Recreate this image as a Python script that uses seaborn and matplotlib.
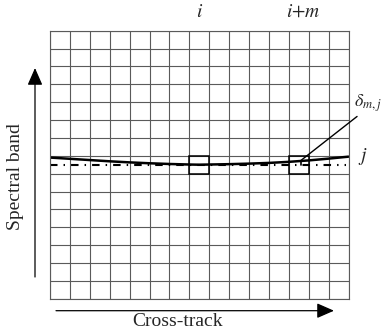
import matplotlib
matplotlib.use("Agg")
import matplotlib.pyplot as plt
from matplotlib.patches import Rectangle
import seaborn as sns
import pandas as pd

# Detector grid: 15 cross-track columns x 15 spectral rows
n_cols = 15
n_rows = 15

# Smile curve of spectral band j across the detector (column position, row position)
curve_x = [0, 1, 2, 3, 4, 5, 6, 7, 7.5, 8, 9, 10, 11, 12, 13, 14, 15]
curve_y = [7.90, 7.83, 7.76, 7.69, 7.63, 7.58, 7.54, 7.51, 7.50, 7.51, 7.53,
           7.56, 7.60, 7.66, 7.74, 7.84, 7.95]

# Nominal (straight) band centre
nominal_x = [0, 14.85]
nominal_y = [7.48, 7.48]

# Highlighted pixels: column i and column i+m in row j
box_cols = [7, 12]
box_row = 7
box_labels = ["$i$", "$i{+}m$"]
box_label_x = [7.5, 12.75]

# Offset delta_{m,j} at column i+m
delta_x = 12.6

sns.set_style("white")
plt.rcParams["font.family"] = ["Liberation Serif", "DejaVu Serif"]
plt.rcParams["mathtext.fontset"] = "stix"

fig = plt.figure(figsize=(3.84, 3.30), dpi=100)
ax = fig.add_axes([50 / 384, (330 - 298.7) / 330, 298.5 / 384, 268 / 330])

grid_color = "#5a5a5a"
ax.set_xlim(0, n_cols)
ax.set_ylim(0, n_rows)
ax.set_xticks(range(n_cols + 1))
ax.set_yticks(range(n_rows + 1))
ax.tick_params(length=0, labelbottom=False, labelleft=False)
ax.grid(True, color=grid_color, linewidth=0.8)
for s in ax.spines.values():
    s.set_color(grid_color)
    s.set_linewidth(0.8)

curve = pd.DataFrame({"x": curve_x, "y": curve_y})
nominal = pd.DataFrame({"x": nominal_x, "y": nominal_y})

sns.lineplot(data=nominal, x="x", y="y", ax=ax, color="black", linewidth=1.5,
             linestyle=(0, (3.6, 2.9, 0.7, 2.9)), sort=False)
sns.lineplot(data=curve, x="x", y="y", ax=ax, color="black", linewidth=1.8,
             sort=False)
ax.set_xlabel("")
ax.set_ylabel("")

for c in box_cols:
    ax.add_patch(Rectangle((c, box_row), 1, 1, fill=False, edgecolor="black",
                           linewidth=1.1, zorder=5))

for lx, lab in zip(box_label_x, box_labels):
    ax.text(lx, 15.76, lab, ha="center", va="baseline", fontsize=14,
            clip_on=False)

# delta marker and leader
y_curve_at_delta = 7.73
ax.plot([delta_x, delta_x], [nominal_y[0], y_curve_at_delta], color="black",
        linewidth=1.2, zorder=6)
ax.plot([delta_x, 15.43], [y_curve_at_delta, 10.2], color="black",
        linewidth=1.0, clip_on=False, zorder=6)
ax.text(15.3, 10.95, r"$\delta_{m,j}$", ha="left", va="center",
        fontsize=13, clip_on=False)
ax.text(15.48, 7.95, "$j$", ha="left", va="center", fontsize=14,
        clip_on=False)

# Axis direction arrows
arrow_kw = dict(arrowstyle="-|>,head_length=10.5,head_width=4.6",
                mutation_scale=1, color="black", linewidth=0.9,
                shrinkA=0, shrinkB=0)
ax.annotate("", xy=(35 / 384, 1 - 68 / 330), xytext=(35 / 384, 1 - 277 / 330),
            xycoords="figure fraction", textcoords="figure fraction",
            arrowprops=arrow_kw)
ax.annotate("", xy=(334 / 384, 1 - 310.7 / 330), xytext=(56 / 384, 1 - 310.7 / 330),
            xycoords="figure fraction", textcoords="figure fraction",
            arrowprops=arrow_kw)

fig.text(15.5 / 384, 1 - 177 / 330, "Spectral band", rotation=90,
         ha="center", va="center", fontsize=14)
fig.text(178 / 384, 1 - 326.5 / 330, "Cross-track", ha="center",
         va="baseline", fontsize=14)

fig.savefig("out.png", dpi=100)
